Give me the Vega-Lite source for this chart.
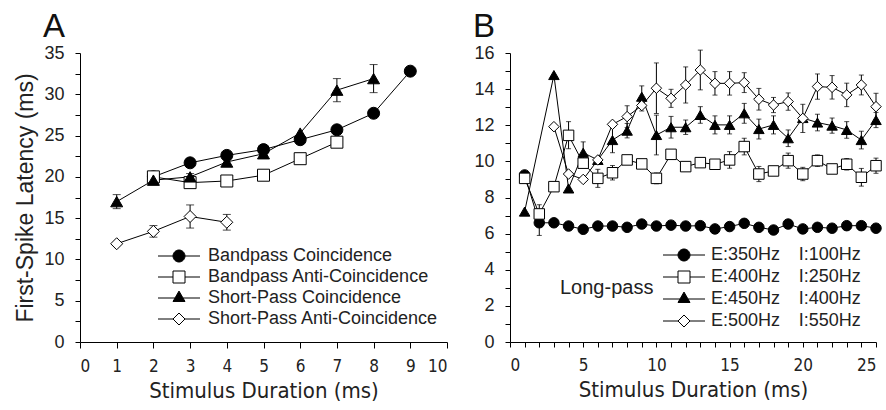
{
  "$schema": "https://vega.github.io/schema/vega-lite/v6.json",
  "padding": {"left": 14, "top": 11, "right": 0, "bottom": 0},
  "background": "white",
  "bounds": "flush",
  "spacing": 63,
  "config": {
    "view": {"stroke": null},
    "axis": {"grid": false, "domainColor": "black", "tickColor": "black", "domainWidth": 1, "tickWidth": 1, "tickSize": 5, "labelColor": "#222", "titleColor": "#222", "titleFontWeight": "normal"},
    "legend": {"padding": 0}
  },
  "datasets": {
    "a": [
      {"s": "Bandpass Coincidence", "x": 2, "y": 20.0},
      {"s": "Bandpass Coincidence", "x": 3, "y": 21.7},
      {"s": "Bandpass Coincidence", "x": 4, "y": 22.6},
      {"s": "Bandpass Coincidence", "x": 5, "y": 23.3},
      {"s": "Bandpass Coincidence", "x": 6, "y": 24.5},
      {"s": "Bandpass Coincidence", "x": 7, "y": 25.7},
      {"s": "Bandpass Coincidence", "x": 8, "y": 27.7},
      {"s": "Bandpass Coincidence", "x": 9, "y": 32.8},
      {"s": "Bandpass Anti-Coincidence", "x": 2, "y": 20.0},
      {"s": "Bandpass Anti-Coincidence", "x": 3, "y": 19.3},
      {"s": "Bandpass Anti-Coincidence", "x": 4, "y": 19.5},
      {"s": "Bandpass Anti-Coincidence", "x": 5, "y": 20.2},
      {"s": "Bandpass Anti-Coincidence", "x": 6, "y": 22.2},
      {"s": "Bandpass Anti-Coincidence", "x": 7, "y": 24.2},
      {"s": "Short-Pass Coincidence", "x": 1, "y": 17.0, "lo": 16.15, "hi": 17.85},
      {"s": "Short-Pass Coincidence", "x": 2, "y": 19.6},
      {"s": "Short-Pass Coincidence", "x": 3, "y": 20.0, "lo": 19.6, "hi": 20.4},
      {"s": "Short-Pass Coincidence", "x": 4, "y": 21.8, "lo": 21.3, "hi": 22.3},
      {"s": "Short-Pass Coincidence", "x": 5, "y": 22.8},
      {"s": "Short-Pass Coincidence", "x": 6, "y": 25.3},
      {"s": "Short-Pass Coincidence", "x": 7, "y": 30.5, "lo": 29.1, "hi": 31.9},
      {"s": "Short-Pass Coincidence", "x": 8, "y": 31.9, "lo": 30.2, "hi": 33.6},
      {"s": "Short-Pass Anti-Coincidence", "x": 1, "y": 11.9},
      {"s": "Short-Pass Anti-Coincidence", "x": 2, "y": 13.4, "lo": 12.7, "hi": 14.1},
      {"s": "Short-Pass Anti-Coincidence", "x": 3, "y": 15.2, "lo": 13.8, "hi": 16.6},
      {"s": "Short-Pass Anti-Coincidence", "x": 4, "y": 14.5, "lo": 13.55, "hi": 15.45}
    ],
    "b": [
      {"s": "E:350Hz I:100Hz", "x": 1, "y": 9.25},
      {"s": "E:350Hz I:100Hz", "x": 2, "y": 6.6, "lo": 5.9, "hi": 7.3},
      {"s": "E:350Hz I:100Hz", "x": 3, "y": 6.6},
      {"s": "E:350Hz I:100Hz", "x": 4, "y": 6.42},
      {"s": "E:350Hz I:100Hz", "x": 5, "y": 6.24},
      {"s": "E:350Hz I:100Hz", "x": 6, "y": 6.42},
      {"s": "E:350Hz I:100Hz", "x": 7, "y": 6.42},
      {"s": "E:350Hz I:100Hz", "x": 8, "y": 6.35},
      {"s": "E:350Hz I:100Hz", "x": 9, "y": 6.53},
      {"s": "E:350Hz I:100Hz", "x": 10, "y": 6.42},
      {"s": "E:350Hz I:100Hz", "x": 11, "y": 6.47},
      {"s": "E:350Hz I:100Hz", "x": 12, "y": 6.42},
      {"s": "E:350Hz I:100Hz", "x": 13, "y": 6.44},
      {"s": "E:350Hz I:100Hz", "x": 14, "y": 6.26},
      {"s": "E:350Hz I:100Hz", "x": 15, "y": 6.39},
      {"s": "E:350Hz I:100Hz", "x": 16, "y": 6.57},
      {"s": "E:350Hz I:100Hz", "x": 17, "y": 6.35},
      {"s": "E:350Hz I:100Hz", "x": 18, "y": 6.2},
      {"s": "E:350Hz I:100Hz", "x": 19, "y": 6.53},
      {"s": "E:350Hz I:100Hz", "x": 20, "y": 6.26},
      {"s": "E:350Hz I:100Hz", "x": 21, "y": 6.35},
      {"s": "E:350Hz I:100Hz", "x": 22, "y": 6.3},
      {"s": "E:350Hz I:100Hz", "x": 23, "y": 6.44},
      {"s": "E:350Hz I:100Hz", "x": 24, "y": 6.44},
      {"s": "E:350Hz I:100Hz", "x": 25, "y": 6.3},
      {"s": "E:400Hz I:250Hz", "x": 1, "y": 9.06, "lo": 8.8, "hi": 9.3},
      {"s": "E:400Hz I:250Hz", "x": 2, "y": 7.09, "lo": 6.6, "hi": 7.6},
      {"s": "E:400Hz I:250Hz", "x": 3, "y": 8.6},
      {"s": "E:400Hz I:250Hz", "x": 4, "y": 11.44, "lo": 10.7, "hi": 12.2},
      {"s": "E:400Hz I:250Hz", "x": 5, "y": 9.9},
      {"s": "E:400Hz I:250Hz", "x": 6, "y": 9.06, "lo": 8.56, "hi": 9.56},
      {"s": "E:400Hz I:250Hz", "x": 7, "y": 9.37, "lo": 8.97, "hi": 9.77},
      {"s": "E:400Hz I:250Hz", "x": 8, "y": 10.08},
      {"s": "E:400Hz I:250Hz", "x": 9, "y": 9.86},
      {"s": "E:400Hz I:250Hz", "x": 10, "y": 9.06, "lo": 8.76, "hi": 9.36},
      {"s": "E:400Hz I:250Hz", "x": 11, "y": 10.39},
      {"s": "E:400Hz I:250Hz", "x": 12, "y": 9.71},
      {"s": "E:400Hz I:250Hz", "x": 13, "y": 9.93},
      {"s": "E:400Hz I:250Hz", "x": 14, "y": 9.84},
      {"s": "E:400Hz I:250Hz", "x": 15, "y": 10.08, "lo": 9.62, "hi": 10.54},
      {"s": "E:400Hz I:250Hz", "x": 16, "y": 10.82, "lo": 10.36, "hi": 11.28},
      {"s": "E:400Hz I:250Hz", "x": 17, "y": 9.3, "lo": 8.88, "hi": 9.72},
      {"s": "E:400Hz I:250Hz", "x": 18, "y": 9.47},
      {"s": "E:400Hz I:250Hz", "x": 19, "y": 10.04, "lo": 9.62, "hi": 10.46},
      {"s": "E:400Hz I:250Hz", "x": 20, "y": 9.3, "lo": 8.93, "hi": 9.67},
      {"s": "E:400Hz I:250Hz", "x": 21, "y": 10.04, "lo": 9.72, "hi": 10.36},
      {"s": "E:400Hz I:250Hz", "x": 22, "y": 9.58},
      {"s": "E:400Hz I:250Hz", "x": 23, "y": 9.84, "lo": 9.52, "hi": 10.16},
      {"s": "E:400Hz I:250Hz", "x": 24, "y": 9.12, "lo": 8.63, "hi": 9.61},
      {"s": "E:400Hz I:250Hz", "x": 25, "y": 9.76, "lo": 9.34, "hi": 10.18},
      {"s": "E:450Hz I:400Hz", "x": 1, "y": 7.22},
      {"s": "E:450Hz I:400Hz", "x": 3, "y": 14.78},
      {"s": "E:450Hz I:400Hz", "x": 4, "y": 8.5},
      {"s": "E:450Hz I:400Hz", "x": 5, "y": 10.48, "lo": 9.88, "hi": 11.08},
      {"s": "E:450Hz I:400Hz", "x": 6, "y": 10.08},
      {"s": "E:450Hz I:400Hz", "x": 7, "y": 11.18, "lo": 10.48, "hi": 11.88},
      {"s": "E:450Hz I:400Hz", "x": 8, "y": 11.7, "lo": 11.3, "hi": 12.1},
      {"s": "E:450Hz I:400Hz", "x": 9, "y": 13.58, "lo": 12.98, "hi": 14.18},
      {"s": "E:450Hz I:400Hz", "x": 10, "y": 11.46, "lo": 10.36, "hi": 12.56},
      {"s": "E:450Hz I:400Hz", "x": 11, "y": 11.89, "lo": 11.29, "hi": 12.49},
      {"s": "E:450Hz I:400Hz", "x": 12, "y": 11.89, "lo": 11.49, "hi": 12.29},
      {"s": "E:450Hz I:400Hz", "x": 13, "y": 12.57, "lo": 12.11, "hi": 13.03},
      {"s": "E:450Hz I:400Hz", "x": 14, "y": 12.02, "lo": 11.52, "hi": 12.52},
      {"s": "E:450Hz I:400Hz", "x": 15, "y": 12.02, "lo": 11.52, "hi": 12.52},
      {"s": "E:450Hz I:400Hz", "x": 16, "y": 12.66, "lo": 12.11, "hi": 13.21},
      {"s": "E:450Hz I:400Hz", "x": 17, "y": 11.79, "lo": 11.24, "hi": 12.34},
      {"s": "E:450Hz I:400Hz", "x": 18, "y": 12.02, "lo": 11.52, "hi": 12.52},
      {"s": "E:450Hz I:400Hz", "x": 19, "y": 11.28, "lo": 10.82, "hi": 11.74},
      {"s": "E:450Hz I:400Hz", "x": 20, "y": 12.4},
      {"s": "E:450Hz I:400Hz", "x": 21, "y": 12.15, "lo": 11.69, "hi": 12.61},
      {"s": "E:450Hz I:400Hz", "x": 22, "y": 11.98, "lo": 11.56, "hi": 12.4},
      {"s": "E:450Hz I:400Hz", "x": 23, "y": 11.74, "lo": 11.28, "hi": 12.2},
      {"s": "E:450Hz I:400Hz", "x": 24, "y": 11.18, "lo": 10.69, "hi": 11.67},
      {"s": "E:450Hz I:400Hz", "x": 25, "y": 12.29, "lo": 11.87, "hi": 12.71},
      {"s": "E:500Hz I:550Hz", "x": 3, "y": 11.92},
      {"s": "E:500Hz I:550Hz", "x": 4, "y": 9.3},
      {"s": "E:500Hz I:550Hz", "x": 5, "y": 9.0},
      {"s": "E:500Hz I:550Hz", "x": 6, "y": 10.08},
      {"s": "E:500Hz I:550Hz", "x": 7, "y": 12.05},
      {"s": "E:500Hz I:550Hz", "x": 8, "y": 12.48, "lo": 11.88, "hi": 13.08},
      {"s": "E:500Hz I:550Hz", "x": 9, "y": 13.09, "lo": 12.79, "hi": 13.39},
      {"s": "E:500Hz I:550Hz", "x": 10, "y": 14.05, "lo": 12.65, "hi": 15.45},
      {"s": "E:500Hz I:550Hz", "x": 11, "y": 13.49, "lo": 12.99, "hi": 13.99},
      {"s": "E:500Hz I:550Hz", "x": 12, "y": 14.23, "lo": 13.23, "hi": 15.23},
      {"s": "E:500Hz I:550Hz", "x": 13, "y": 15.06, "lo": 13.96, "hi": 16.16},
      {"s": "E:500Hz I:550Hz", "x": 14, "y": 14.32, "lo": 13.67, "hi": 14.97},
      {"s": "E:500Hz I:550Hz", "x": 15, "y": 14.32, "lo": 13.67, "hi": 14.97},
      {"s": "E:500Hz I:550Hz", "x": 16, "y": 14.36, "lo": 13.81, "hi": 14.91},
      {"s": "E:500Hz I:550Hz", "x": 17, "y": 13.44, "lo": 12.84, "hi": 14.04},
      {"s": "E:500Hz I:550Hz", "x": 18, "y": 13.12, "lo": 12.7, "hi": 13.54},
      {"s": "E:500Hz I:550Hz", "x": 19, "y": 13.31, "lo": 12.83, "hi": 13.79},
      {"s": "E:500Hz I:550Hz", "x": 20, "y": 12.38, "lo": 11.6, "hi": 13.16},
      {"s": "E:500Hz I:550Hz", "x": 21, "y": 14.14, "lo": 13.44, "hi": 14.84},
      {"s": "E:500Hz I:550Hz", "x": 22, "y": 14.1, "lo": 13.45, "hi": 14.75},
      {"s": "E:500Hz I:550Hz", "x": 23, "y": 13.68, "lo": 13.03, "hi": 14.33},
      {"s": "E:500Hz I:550Hz", "x": 24, "y": 14.23, "lo": 13.68, "hi": 14.78},
      {"s": "E:500Hz I:550Hz", "x": 25, "y": 13.03, "lo": 12.29, "hi": 13.77}
    ]
  },
  "hconcat": [
    {
      "width": 367,
      "height": 289,
      "title": {"text": "A", "anchor": "start", "frame": "group", "font": "Liberation Sans", "fontSize": 33, "fontWeight": "normal", "color": "#111", "dx": -37, "offset": 0},
      "data": {"name": "a"},
      "encoding": {
        "x": {"field": "x", "type": "quantitative", "scale": {"domain": [0, 10]},
          "axis": {"values": [0,1,2,3,4,5,6,7,8,9,10], "title": "Stimulus Duration (ms)", "labelFont": "DejaVu Sans Condensed", "labelFontSize": 17, "labelPadding": 10, "titleFont": "DejaVu Sans Condensed", "titleFontSize": 22, "titlePadding": 6, "tickSize": 6}},
        "y": {"field": "y", "type": "quantitative", "scale": {"domain": [0, 35]},
          "axis": {"values": [0,2.5,5,7.5,10,12.5,15,17.5,20,22.5,25,27.5,30,32.5,35], "labelExpr": "datum.value % 5 == 0 ? datum.label : ''", "title": "First-Spike Latency (ms)", "labelFont": "Liberation Sans", "labelFontSize": 18, "labelPadding": 11, "titleFont": "Liberation Sans", "titleFontSize": 23, "titlePadding": 6}}
      },
      "layer": [
        {
          "transform": [{"filter": "isValid(datum.lo)"}],
          "mark": {"type": "errorbar", "color": "black", "ticks": {"size": 8, "color": "black"}, "rule": {"color": "black", "strokeWidth": 1}},
          "encoding": {
            "y": {"field": "lo", "type": "quantitative", "scale": {"domain": [0, 35]},
              "axis": {"values": [0,2.5,5,7.5,10,12.5,15,17.5,20,22.5,25,27.5,30,32.5,35], "labelExpr": "datum.value % 5 == 0 ? datum.label : ''", "title": "First-Spike Latency (ms)", "labelFont": "Liberation Sans", "labelFontSize": 18, "labelPadding": 11, "titleFont": "Liberation Sans", "titleFontSize": 23, "titlePadding": 6}},
            "y2": {"field": "hi"}
          }
        },
        {
          "mark": {"type": "line", "color": "black", "strokeWidth": 1},
          "encoding": {
            "detail": {"field": "s"},
            "order": {"field": "x"}
          }
        },
        {
          "transform": [{"filter": "datum.x < 0"}],
          "mark": {"type": "point", "stroke": "black", "strokeWidth": 1, "opacity": 1, "size": 144},
          "encoding": {
            "shape": {"field": "s", "type": "nominal",
              "scale": {"domain": ["Bandpass Coincidence", "Bandpass Anti-Coincidence", "Short-Pass Coincidence", "Short-Pass Anti-Coincidence"],
                "range": ["M-3.5,0H-1M1,0H3.5M-1,0A1,1,0,1,0,1,0A1,1,0,1,0,-1,0Z", "M-3.5,0H-1M1,0H3.5M-1,-1H1V1H-1Z", "M-3.5,0H-0.67M0.67,0H3.5M0,-1.155L-1,0.577L1,0.577Z", "M-3.5,0H-1M1,0H3.5M-1,0L0,-1L1,0L0,1Z"]},
              "legend": {"title": null, "orient": "none", "legendX": 90, "legendY": 194, "labelFont": "Liberation Sans", "labelFontSize": 18, "labelColor": "#222", "labelLimit": 500, "symbolSize": 144, "labelOffset": 20, "rowPadding": 3, "symbolStrokeColor": "black", "symbolStrokeWidth": 1, "symbolOpacity": 1,
                "encoding": {"symbols": {"stroke": {"value": "black"}, "strokeWidth": {"value": 1}, "strokeOpacity": {"value": 1}}}}},
            "fill": {"field": "s", "type": "nominal",
              "scale": {"domain": ["Bandpass Coincidence", "Bandpass Anti-Coincidence", "Short-Pass Coincidence", "Short-Pass Anti-Coincidence"], "range": ["black", "white", "black", "white"]},
              "legend": {"title": null, "orient": "none", "legendX": 90, "legendY": 194, "labelFont": "Liberation Sans", "labelFontSize": 18, "labelColor": "#222", "labelLimit": 500, "symbolSize": 144, "labelOffset": 20, "rowPadding": 3, "symbolStrokeColor": "black", "symbolStrokeWidth": 1, "symbolOpacity": 1,
                "encoding": {"symbols": {"stroke": {"value": "black"}, "strokeWidth": {"value": 1}, "strokeOpacity": {"value": 1}}}}}
          }
        },
        {
          "mark": {"type": "point", "stroke": "black", "strokeWidth": 1, "opacity": 1, "size": 144},
          "encoding": {
            "shape": {"field": "s", "type": "nominal",
              "scale": {"domain": ["Bandpass Coincidence", "Bandpass Anti-Coincidence", "Short-Pass Coincidence", "Short-Pass Anti-Coincidence"], "range": ["circle", "square", "triangle-up", "diamond"]},
              "legend": null},
            "fill": {"field": "s", "type": "nominal",
              "scale": {"domain": ["Bandpass Coincidence", "Bandpass Anti-Coincidence", "Short-Pass Coincidence", "Short-Pass Anti-Coincidence"], "range": ["black", "white", "black", "white"]},
              "legend": null}
          }
        }
      ],
      "resolve": {"scale": {"shape": "independent", "fill": "independent"}, "legend": {"shape": "independent", "fill": "independent"}}
    },
    {
      "width": 366,
      "height": 289,
      "title": {"text": "B", "anchor": "start", "frame": "group", "font": "Liberation Sans", "fontSize": 33, "fontWeight": "normal", "color": "#111", "dx": -37, "offset": 0},
      "data": {"name": "b"},
      "encoding": {
        "x": {"field": "x", "type": "quantitative", "scale": {"domain": [0, 25]},
          "axis": {"values": [0,1,2,3,4,5,6,7,8,9,10,11,12,13,14,15,16,17,18,19,20,21,22,23,24,25], "labelExpr": "datum.value % 5 == 0 ? datum.label : ''", "title": "Stimulus Duration (ms)", "labelFont": "DejaVu Sans Condensed", "labelFontSize": 17, "labelPadding": 10, "titleFont": "DejaVu Sans Condensed", "titleFontSize": 22, "titlePadding": 6, "tickSize": 5}},
        "y": {"field": "y", "type": "quantitative", "scale": {"domain": [0, 16]},
          "axis": {"values": [0,1,2,3,4,5,6,7,8,9,10,11,12,13,14,15,16], "labelExpr": "datum.value % 2 == 0 ? datum.label : ''", "title": null, "labelFont": "Liberation Sans", "labelFontSize": 18, "labelPadding": 11}}
      },
      "layer": [
        {
          "transform": [{"filter": "isValid(datum.lo)"}],
          "mark": {"type": "errorbar", "color": "black", "ticks": {"size": 5, "color": "black"}, "rule": {"color": "black", "strokeWidth": 1}},
          "encoding": {
            "y": {"field": "lo", "type": "quantitative", "scale": {"domain": [0, 16]},
              "axis": {"values": [0,1,2,3,4,5,6,7,8,9,10,11,12,13,14,15,16], "labelExpr": "datum.value % 2 == 0 ? datum.label : ''", "title": null, "labelFont": "Liberation Sans", "labelFontSize": 18, "labelPadding": 11}},
            "y2": {"field": "hi"}
          }
        },
        {
          "mark": {"type": "line", "color": "black", "strokeWidth": 1},
          "encoding": {
            "detail": {"field": "s"},
            "order": {"field": "x"}
          }
        },
        {
          "transform": [{"filter": "datum.x < 0"}],
          "mark": {"type": "point", "stroke": "black", "strokeWidth": 1, "opacity": 1, "size": 144},
          "encoding": {
            "shape": {"field": "s", "type": "nominal",
              "scale": {"domain": ["E:350Hz I:100Hz", "E:400Hz I:250Hz", "E:450Hz I:400Hz", "E:500Hz I:550Hz"],
                "range": ["M-3.5,0H-1M1,0H3.5M-1,0A1,1,0,1,0,1,0A1,1,0,1,0,-1,0Z", "M-3.5,0H-1M1,0H3.5M-1,-1H1V1H-1Z", "M-3.5,0H-0.67M0.67,0H3.5M0,-1.155L-1,0.577L1,0.577Z", "M-3.5,0H-1M1,0H3.5M-1,0L0,-1L1,0L0,1Z"]},
              "legend": {"title": "Long-pass", "titleOrient": "left", "titleAnchor": "middle", "titleBaseline": "middle", "titleFont": "Liberation Sans", "titleFontSize": 20, "titleFontWeight": "normal", "titleColor": "#222", "titlePadding": 21, "orient": "none", "legendX": 50, "legendY": 193, "labelFont": "Liberation Sans", "labelFontSize": 18, "labelColor": "#222", "labelLimit": 500, "symbolSize": 144, "labelOffset": 18, "rowPadding": 4, "symbolStrokeColor": "black", "symbolStrokeWidth": 1, "symbolOpacity": 1,
                "labelExpr": "replace(datum.label, ' ', '\u00a0\u00a0\u00a0\u2009')",
                "encoding": {"symbols": {"stroke": {"value": "black"}, "strokeWidth": {"value": 1}, "strokeOpacity": {"value": 1}}}}},
            "fill": {"field": "s", "type": "nominal",
              "scale": {"domain": ["E:350Hz I:100Hz", "E:400Hz I:250Hz", "E:450Hz I:400Hz", "E:500Hz I:550Hz"], "range": ["black", "white", "black", "white"]},
              "legend": {"title": "Long-pass", "titleOrient": "left", "titleAnchor": "middle", "titleBaseline": "middle", "titleFont": "Liberation Sans", "titleFontSize": 20, "titleFontWeight": "normal", "titleColor": "#222", "titlePadding": 21, "orient": "none", "legendX": 50, "legendY": 193, "labelFont": "Liberation Sans", "labelFontSize": 18, "labelColor": "#222", "labelLimit": 500, "symbolSize": 144, "labelOffset": 18, "rowPadding": 4, "symbolStrokeColor": "black", "symbolStrokeWidth": 1, "symbolOpacity": 1,
                "labelExpr": "replace(datum.label, ' ', '\u00a0\u00a0\u00a0\u2009')",
                "encoding": {"symbols": {"stroke": {"value": "black"}, "strokeWidth": {"value": 1}, "strokeOpacity": {"value": 1}}}}}
          }
        },
        {
          "mark": {"type": "point", "stroke": "black", "strokeWidth": 1, "opacity": 1, "size": 110},
          "encoding": {
            "shape": {"field": "s", "type": "nominal",
              "scale": {"domain": ["E:350Hz I:100Hz", "E:400Hz I:250Hz", "E:450Hz I:400Hz", "E:500Hz I:550Hz"], "range": ["circle", "square", "triangle-up", "diamond"]},
              "legend": null},
            "fill": {"field": "s", "type": "nominal",
              "scale": {"domain": ["E:350Hz I:100Hz", "E:400Hz I:250Hz", "E:450Hz I:400Hz", "E:500Hz I:550Hz"], "range": ["black", "white", "black", "white"]},
              "legend": null}
          }
        }
      ],
      "resolve": {"scale": {"shape": "independent", "fill": "independent"}, "legend": {"shape": "independent", "fill": "independent"}}
    }
  ],
  "resolve": {"scale": {"shape": "independent", "fill": "independent", "x": "independent", "y": "independent"}, "legend": {"shape": "independent", "fill": "independent"}}
}
